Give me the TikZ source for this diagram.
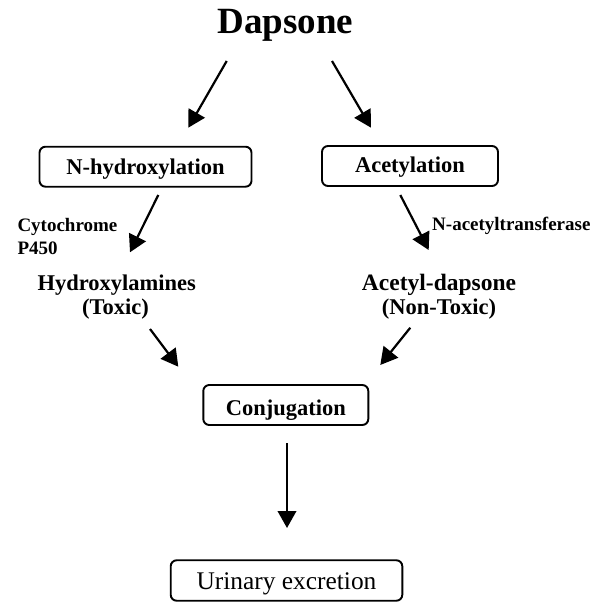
\documentclass[tikz,border=0pt]{standalone}
\usepackage{fontspec}
\setmainfont{Liberation Serif}
\usetikzlibrary{arrows.meta}
\newcommand{\fs}[1]{\fontsize{#1}{#1}\selectfont}
\tikzset{
  stagebox/.style={draw=black, line width=1.9pt, rounded corners=6pt, inner sep=0pt,
    minimum height=40pt, text depth=0pt, font=\fs{22.5}\bfseries},
  lbl/.style={inner sep=0pt, anchor=base, font=\fs{22.5}\bfseries},
  enz/.style={inner sep=0pt, anchor=base west, font=\fs{19}\bfseries},
  flow/.style={line width=2.2pt, -{Triangle[length=17pt,width=18.5pt]}},
}
\begin{document}
\begin{tikzpicture}[x=1pt,y=-1pt]
\useasboundingbox (0,0) rectangle (597,602);
% texts
\node[inner sep=0pt, anchor=base, font=\fs{37}\bfseries] (dap) at (285.5,33.3) {Dapsone};
\node[stagebox, minimum width=212pt, text height=14.6pt] (nhyd) at (145.5,166.7) {N-hydroxylation};
\node[stagebox, minimum width=176pt, text height=13.4pt] (acet) at (410,166) {Acetylation};
\node[enz] (cyt1) at (17.3,231) {Cytochrome};
\node[enz] (cyt2) at (17.3,254.3) {P450};
\node[enz] (nat) at (432,230) {N-acetyltransferase};
\node[lbl] (hyd) at (116.7,290.5) {Hydroxylamines};
\node[lbl] (tox) at (115.5,314.5) {(Toxic)};
\node[lbl, font=\fs{23.5}\bfseries] (acd) at (439,290.5) {Acetyl-dapsone};
\node[lbl] (ntox) at (439,314.5) {(Non-Toxic)};
\node[stagebox, minimum width=165pt, text height=20pt] (conj) at (285.8,405) {Conjugation};
\node[stagebox, minimum width=231.6pt, minimum height=40.5pt, text height=18.6pt, font=\fs{25.4}] (urin) at (286.5,580.5) {Urinary excretion};
% arrow ends
\coordinate (a1s) at (226.7,61);   \coordinate (a1e) at (188.3,127.7);
\coordinate (a2s) at (332,61);     \coordinate (a2e) at (371,127.7);
\coordinate (a3s) at (158.3,195);  \coordinate (a3e) at (130,252.3);
\coordinate (a4s) at (400.3,195);  \coordinate (a4e) at (428.7,250);
\coordinate (a5s) at (150,329);    \coordinate (a5e) at (178.3,366.7);
\coordinate (a6s) at (410.3,327.7);\coordinate (a6e) at (380.3,365);
\coordinate (a7s) at (287,443);    \coordinate (a7e) at (287,528);
\draw[flow] (a1s) -- (a1e);
\draw[flow] (a2s) -- (a2e);
\draw[flow] (a3s) -- (a3e);
\draw[flow] (a4s) -- (a4e);
\draw[flow] (a5s) -- (a5e);
\draw[flow] (a6s) -- (a6e);
\draw[flow] (a7s) -- (a7e);
\end{tikzpicture}
\end{document}
